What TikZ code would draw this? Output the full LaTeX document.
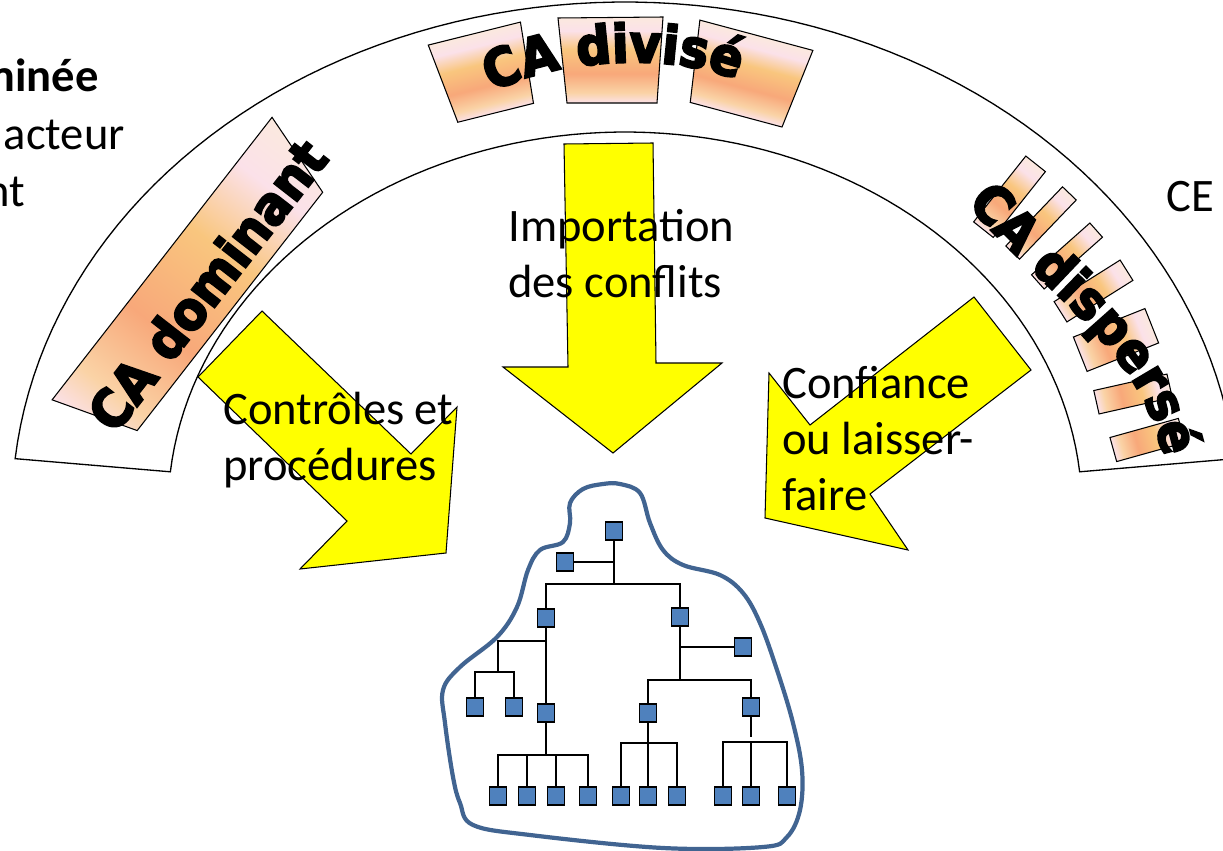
\documentclass[tikz,border=0pt]{standalone}
\usepackage{fontspec}
\setmainfont{Carlito}
\newfontfamily\artfont{DejaVu Sans}[BoldFeatures={FakeBold=4,FakeStretch=0.92}]
\usetikzlibrary{decorations.text}

\definecolor{peachA}{HTML}{FBE9DE}
\definecolor{peachB}{HTML}{FBE1E9}
\definecolor{peachC}{HTML}{F9C67E}
\definecolor{peachD}{HTML}{F8A87A}
\definecolor{peachE}{HTML}{FAD3A6}
\definecolor{arrowyellow}{RGB}{255,255,0}
\definecolor{blobblue}{RGB}{65,100,145}
\definecolor{unitblue}{RGB}{79,129,189}

\pgfdeclareverticalshading{peach}{100bp}{color(0bp)=(peachB); color(25bp)=(peachB); color(31bp)=(peachE); color(42bp)=(peachD); color(56bp)=(peachC); color(67bp)=(peachB); color(75bp)=(peachA); color(100bp)=(peachA)}

\newcommand{\artsize}{\fontsize{30}{33}\selectfont}

\begin{document}
\begin{tikzpicture}[x=0.02cm,y=-0.02cm]
\tikzset{
    band/.style={draw=black,line width=0.75pt,fill=white},
    piece/.style={draw=black,line width=0.6pt,shading=peach},
    bigarrow/.style={draw=black,line width=0.6pt,fill=arrowyellow,line join=miter},
    lbl/.style={font=\fontsize{26.5}{31.6}\selectfont,align=left,inner sep=0pt},
    wordart/.style={font=\artfont\bfseries\artsize,inner sep=0pt},
    unit/.style={draw=black,line width=1pt,fill=unitblue,minimum width=0.34cm,minimum height=0.36cm,inner sep=0pt},
    link/.style={line width=0.7pt},
    blob/.style={draw=blobblue,line width=2.4pt}
}

%% CONFIG
% centre of the board band
\def\bcx{625}
\def\bcy{510}

%% Macro for a shaded piece of the band
% 1: centre
% 2: angle
% 3: local path
\newcommand{\capiece}[3]{
    \begin{scope}[transform canvas={shift={#1},rotate=#2}]
        \shadedraw[piece] #3;
    \end{scope}
}

\useasboundingbox (0,0) rectangle (1223,851);
\clip (0,0) rectangle (1223,851);

% Draw the band
\draw[band] plot[domain=5.8:174.2,samples=90] ({\bcx+613*cos(\x)},{\bcy-508*sin(\x)})
    -- plot[domain=174.2:5.8,samples=90] ({\bcx+457*cos(\x)},{\bcy-378*sin(\x)}) -- cycle;

% Draw pieces: dominant
\capiece{(196,285)}{-37.9}{(-43,-179) -- (43,-151) -- (43,151) -- (-43,179) -- cycle}
% Draw pieces: divise
\capiece{(484.75,73.25)}{14}{(-48,-41) -- (47,-41) -- (40,41) -- (-38,41) -- cycle}
\capiece{(611,60)}{0}{(-53,-42) -- (52,-43) -- (46,43) -- (-44,43) -- cycle}
\capiece{(746.25,75)}{-15}{(-59,-41) -- (58,-41) -- (48,41) -- (-47,41) -- cycle}
% Draw pieces: disperse
\foreach \cx/\cy/\ang/\len/\wid in {1009.5/196.75/-38.4/84/25, 1041/223/-43.8/82/19,
    1067/256/-48.4/78/19, 1093.5/291/-57.8/78/24, 1116/340/-68.3/77/37,
    1133/394/-77.3/75/24, 1147.5/440/-74.4/71/25}{
    \capiece{(\cx,\cy)}{\ang}{({-\wid/2},{-\len/2}) rectangle ({\wid/2},{\len/2})}
}

% Word art titles
\node[wordart,rotate=52.1] (ca_dom) at (207,285) {CA dominant};
\path[decorate,decoration={text along path,text align=center,
    text={|\artfont\bfseries\artsize|CA divisé}}]
    (480,100) .. controls (540,58) and (680,48) .. (750,86);
\path[decorate,decoration={text along path,text align={fit to path},
    text={|\artfont\bfseries\artsize|CA dispersé}}]
    (967,203) .. controls (1037,288) and (1144,349) .. (1163,457);

% Big arrows
\draw[bigarrow] (564,144) -- (653,143) -- (656,363) -- (722,363) -- (613,453) -- (503,367) -- (568,367) -- cycle;
\draw[bigarrow] (262,311) -- (411,454) -- (457,407) -- (446,553) -- (300,569) -- (347,521) -- (198,377) -- cycle;
\draw[bigarrow] (974,297) -- (1031,370) -- (870,494) -- (908,550) -- (765,518) -- (769,373) -- (810,425) -- cycle;

% Labels (base = last line)
\node[lbl,anchor=base west] (lbl_import) at (508,297) {Importation\\des conflits};
\node[lbl,anchor=base west] (lbl_ctrl) at (223,480) {Contrôles et\\procédures};
\node[lbl,anchor=base west] (lbl_trust) at (782,510) {Confiance\\ou laisser-\\faire};
\node[lbl,anchor=base west] (lbl_ce) at (1166,212) {CE};
\node[lbl,anchor=base east] (lbl_l1) at (99,92) {\textbf{minée}};
\node[lbl,anchor=base east] (lbl_l2) at (125,150) {acteur};
\node[lbl,anchor=base east] (lbl_l3) at (25,207) {nt};

% Organisation outline
\draw[blob] plot[smooth cycle,tension=0.6] coordinates {(620,484) (640,493) (650,523) (663,550)
    (683,565) (720,575) (743,593) (760,623) (777,670) (793,723) (802,770) (800,810) (787,837)
    (763,847) (663,848) (530,835) (473,825) (460,803) (453,777) (445,723) (443,690) (460,667)
    (497,637) (517,607) (528,570) (540,550) (563,542) (570,523) (570,503) (583,489) (603,484)};

% Units of the organisation
\node[unit] (u_top) at (614,531) {};
\node[unit] (u_staff) at (565,562) {};
\node[unit] (u_a) at (546,618) {};
\node[unit] (u_b) at (680,617) {};
\node[unit] (u_bs) at (743,647) {};
\node[unit] (u_a1) at (475,707) {};
\node[unit] (u_a2) at (514,707) {};
\node[unit] (u_a3) at (546,713) {};
\node[unit] (u_b1) at (648,713) {};
\node[unit] (u_b2) at (751,707) {};
\foreach \xi/\xx in {1/498,2/527,3/556,4/588}{
    \node[unit] (u_c\xi) at (\xx,796) {};
}
\foreach \xi/\xx in {1/621,2/648,3/677}{
    \node[unit] (u_d\xi) at (\xx,796) {};
}
\foreach \xi/\xx in {1/723,2/751,3/787}{
    \node[unit] (u_e\xi) at (\xx,796) {};
}

% Links
\coordinate (j_top) at (614,584);
\coordinate (j_a) at (498,641);
\coordinate (j_a2) at (498,672);
\coordinate (j_c) at (546,755);
\coordinate (j_b) at (680,680);
\coordinate (j_d) at (648,743);
\coordinate (j_e) at (751,742);
\draw[link] (u_top) -- (j_top);
\draw[link] (u_staff) -- (u_staff -| u_top);
\draw[link] (u_a) |- (j_top) -| (u_b);
\draw[link] (u_a) -- (u_a3);
\draw[link] (j_a -| u_a) -- (j_a) -- (j_a2);
\draw[link] (u_a1) |- (j_a2) -| (u_a2);
\draw[link] (u_a3) -- (j_c);
\draw[link] (u_c1) |- (j_c) -| (u_c4);
\draw[link] (u_c2) -- (u_c2 |- j_c);
\draw[link] (u_c3) -- (u_c3 |- j_c);
\draw[link] (u_b) -- (j_b);
\draw[link] (u_bs) -- (u_bs -| u_b);
\draw[link] (u_b1) |- (j_b) -| (u_b2);
\draw[link] (u_b1) -- (j_d);
\draw[link] (u_d1) |- (j_d) -| (u_d3);
\draw[link] (u_d2) -- (j_d);
\draw[link] (u_b2) -- ++(0,30);
\draw[link] (u_e1) |- (j_e) -| (u_e3);
\draw[link] (u_e2) -- (j_e);

\end{tikzpicture}
\end{document}
